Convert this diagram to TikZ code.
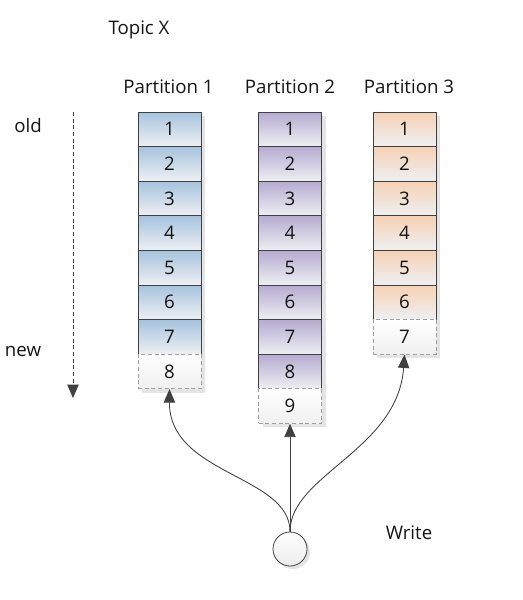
\documentclass[tikz,border=0pt]{standalone}
\usepackage{fontspec}
\setmainfont{Open Sans}
\usetikzlibrary{arrows.meta,positioning}

\definecolor{txt}{RGB}{20,20,20}
\definecolor{edge}{RGB}{64,64,64}
\definecolor{ponec}{RGB}{166,195,222}
\definecolor{ptwoc}{RGB}{182,170,208}
\definecolor{pthreec}{RGB}{246,209,180}
\definecolor{cellbot}{RGB}{238,240,243}
\definecolor{shadowc}{RGB}{228,228,228}

\begin{document}
\begin{tikzpicture}[x=0.75pt,y=-0.75pt,
    font=\fontsize{14}{16}\selectfont, text=txt,
    cell/.style={draw=edge, line width=0.6pt, minimum width=47.25pt,
        minimum height=25.95pt, inner sep=0pt, bottom color=cellbot},
    newcell/.style={draw=gray!75, line width=0.6pt, densely dashed,
        minimum width=47.25pt, minimum height=25.95pt, inner sep=0pt,
        top color=white, bottom color=gray!12},
    writearrow/.style={edge, line width=0.65pt, -{Triangle[length=10pt,width=8.5pt]}}]
\useasboundingbox (0,0) rectangle (522,600);

% Titles
\node (topic) at (139,30) {Topic X};
\node (old) at (28,125) {old};
\node (new) at (23,352) {new};
\node (write) at (409,533) {Write};

% Time direction
\coordinate (tstart) at (73,112);
\coordinate (tend) at (73,398);
\draw[edge, densely dashed, line width=0.7pt,
    -{Triangle[length=10pt,width=8.5pt]}] (tstart) -- (tend);

% Partitions: index/center/label x/last stored message/colour
\foreach \col/\cx/\hx/\n/\clr in {1/169.5/168.5/7/ponec, 2/290/290/8/ptwoc, 3/404.5/409/6/pthreec} {
    \pgfmathtruncatemacro\m{\n+1}
    \node (head\col) at (\hx,87) {Partition \col};
    % shadow
    \fill[shadowc] (\cx-27.5,116) rectangle (\cx+35.5,116+34.6*\m);
    \foreach \i in {1,...,\n}
        \node[cell, top color=\clr] (p\col-\i) at (\cx,112+34.6*\i-17.3) {\i};
    \node[newcell] (p\col-\m) at (\cx,112+34.6*\m-17.3) {\m};
}

% Producer
\fill[shadowc] (293,552) circle (17);
\node[circle, draw=edge, line width=0.6pt, minimum size=25.5pt, inner sep=0pt,
    top color=white, bottom color=gray!15] (w) at (290,549) {};

% Writes
\draw[writearrow] (w.north) .. controls (290,475) and (169,475) .. (p1-8.south);
\draw[writearrow] (w.north) -- (p2-9.south);
\draw[writearrow] (w.north) .. controls (290,475) and (398,450) .. (p3-7.south);
\end{tikzpicture}
\end{document}
